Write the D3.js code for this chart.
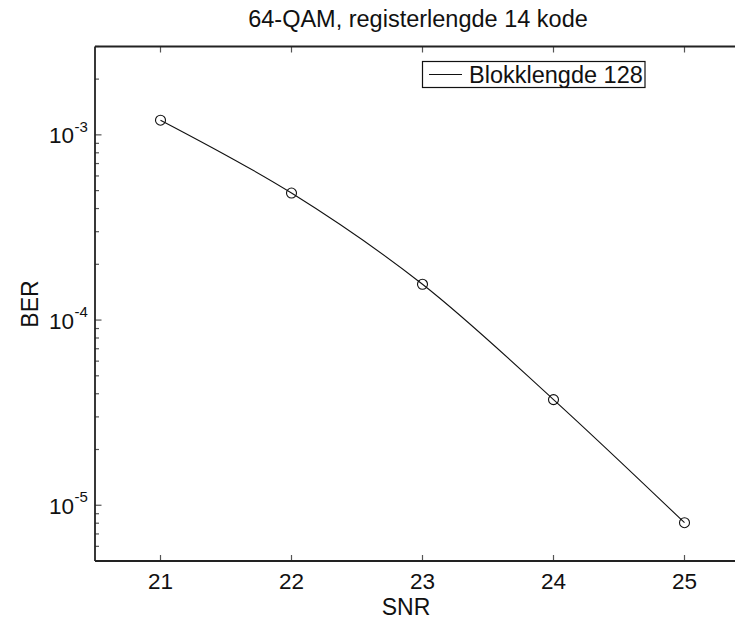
<!DOCTYPE html>
<html>
<head>
<meta charset="utf-8">
<script src="https://cdn.jsdelivr.net/npm/d3@7"></script>
<style>
  html, body { margin: 0; padding: 0; background: #fff; }
  svg { display: block; font-family: "Liberation Sans", Arial, sans-serif; }
</style>
</head>
<body>
<svg id="chart" width="735" height="622"></svg>
<script>
// ---- data ----
const snr = [21, 22, 23, 24, 25];
const ber = [1.2e-3, 4.85e-4, 1.56e-4, 3.72e-5, 8.05e-6];
const xTicks = [21, 22, 23, 24, 25];
const yMajorExps = [-5, -4, -3];
const titleText = "64-QAM, registerlengde 14 kode";
const xLabelText = "SNR";
const yLabelText = "BER";
const legendLabel = "Blokklengde 128";

(function () {
// ---- layout ----
const W = 735, H = 622;
const pL = 95, pT = 46.5, pB = 561, pR = 750;
const svg = d3.select("#chart");

const x = d3.scaleLinear().domain([20.5, 25.5]).range([pL, pR]);
const y = d3.scaleLog().domain([5e-6, 3e-3]).range([pB, pT]);

const axisColor = "#222";
const tickColor = "#555";

// minor + major y ticks
const yTicksAll = [];
for (let e = -6; e <= -3; e++) {
  for (let m = 1; m <= 9; m++) {
    const v = m * Math.pow(10, e);
    if (v >= 5e-6 && v <= 3e-3) yTicksAll.push({v, major: m === 1});
  }
}
svg.append("g").selectAll("line").data(yTicksAll).join("line")
  .attr("x1", pL).attr("x2", d => pL + (d.major ? 6.5 : 4))
  .attr("y1", d => y(d.v)).attr("y2", d => y(d.v))
  .attr("stroke", tickColor).attr("stroke-width", 1.2);

// x ticks bottom and top (inward)
const xt = svg.append("g");
xt.selectAll("line.b").data(xTicks).join("line").attr("class", "b")
  .attr("x1", d => x(d)).attr("x2", d => x(d))
  .attr("y1", pB).attr("y2", pB - 6)
  .attr("stroke", tickColor).attr("stroke-width", 1.2);
xt.selectAll("line.t").data(xTicks).join("line").attr("class", "t")
  .attr("x1", d => x(d)).attr("x2", d => x(d))
  .attr("y1", pT).attr("y2", pT + 6)
  .attr("stroke", tickColor).attr("stroke-width", 1.2);

// axis lines
svg.append("line").attr("x1", pL).attr("x2", pL).attr("y1", pT).attr("y2", pB)
  .attr("stroke", axisColor).attr("stroke-width", 1.8);
svg.append("line").attr("x1", pL).attr("x2", W).attr("y1", pB).attr("y2", pB)
  .attr("stroke", axisColor).attr("stroke-width", 1.8);
svg.append("line").attr("x1", pL).attr("x2", W).attr("y1", pT).attr("y2", pT)
  .attr("stroke", axisColor).attr("stroke-width", 1.8);

// x tick labels
svg.append("g").selectAll("text").data(xTicks).join("text")
  .attr("x", d => x(d)).attr("y", 589)
  .attr("text-anchor", "middle").attr("font-size", 22.5).attr("fill", "#111")
  .text(d => d);

// y tick labels 10^e
svg.append("g").selectAll("text").data(yMajorExps).join("text")
  .attr("x", 74).attr("y", d => y(Math.pow(10, d)) + 8.5)
  .attr("text-anchor", "end").attr("font-size", 22.5).attr("fill", "#111")
  .text("10");
svg.append("g").selectAll("text").data(yMajorExps).join("text")
  .attr("x", 74.5).attr("y", d => y(Math.pow(10, d)) - 3)
  .attr("font-size", 15).attr("fill", "#111")
  .text(d => "-" + Math.abs(d));

// line + markers
const line = d3.line().x((d, i) => x(snr[i])).y(d => y(d)).curve(d3.curveCatmullRom.alpha(0.5));
svg.append("path").datum(ber).attr("d", line)
  .attr("fill", "none").attr("stroke", "#111").attr("stroke-width", 1.1);
svg.append("g").selectAll("circle").data(ber).join("circle")
  .attr("cx", (d, i) => x(snr[i])).attr("cy", d => y(d)).attr("r", 5)
  .attr("fill", "none").attr("stroke", "#111").attr("stroke-width", 1.1);

// title and labels
svg.append("text").attr("x", 418).attr("y", 26.5).attr("text-anchor", "middle")
  .attr("font-size", 23.5).attr("fill", "#111").text(titleText);
svg.append("text").attr("x", 406).attr("y", 615).attr("text-anchor", "middle")
  .attr("font-size", 23).attr("fill", "#111").text(xLabelText);
svg.append("text").attr("transform", "translate(38,304) rotate(-90)")
  .attr("text-anchor", "middle").attr("font-size", 23).attr("fill", "#111").text(yLabelText);

// legend
const lg = svg.append("g");
lg.append("rect").attr("x", 422.5).attr("y", 61.5).attr("width", 222.5).attr("height", 26)
  .attr("fill", "#fff").attr("stroke", "#111").attr("stroke-width", 1.2);
lg.append("line").attr("x1", 429).attr("x2", 462).attr("y1", 74.5).attr("y2", 74.5)
  .attr("stroke", "#111").attr("stroke-width", 1.1);
lg.append("text").attr("x", 469).attr("y", 83).attr("font-size", 23.5).attr("fill", "#111")
  .text(legendLabel);
})();
</script>
</body>
</html>
